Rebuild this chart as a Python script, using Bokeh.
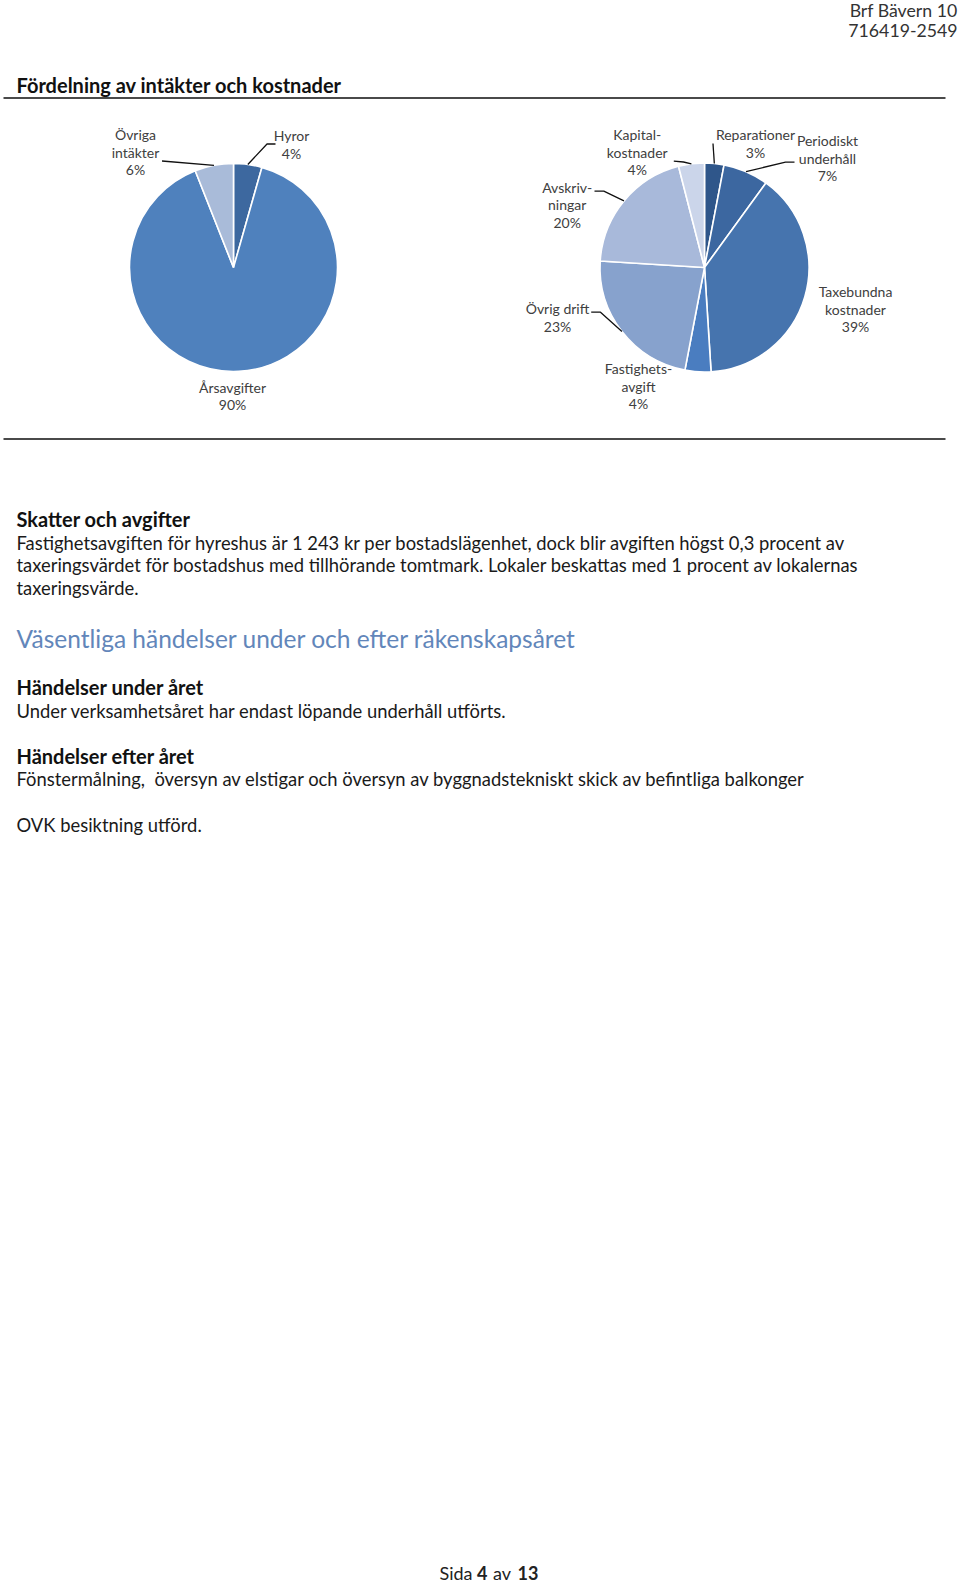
import math
from bokeh.plotting import figure
from bokeh.models import Range1d, ColumnDataSource
from bokeh.core.properties import value
from bokeh.embed import file_html
from bokeh.resources import INLINE

# ---------------- data ----------------
income_labels = ["Hyror", "Årsavgifter", "Övriga\nintäkter"]
income_values = [4.4, 89.6, 6.0]
income_colors = ["#3D689F", "#4F81BD", "#A9BBD9"]

cost_labels = ["Reparationer", "Periodiskt\nunderhåll", "Taxebundna\nkostnader",
               "Fastighets-\navgift", "Övrig drift", "Avskriv-\nningar", "Kapital-\nkostnader"]
cost_values = [3, 7, 39, 4, 23, 20, 4]
cost_colors = ["#2F568A", "#3C67A0", "#4674AE", "#4A7DC0", "#87A2CD", "#A8B9DA", "#CBD5EA"]

header_lines = ["Brf Bävern 10", "716419-2549"]
section_title = "Fördelning av intäkter och kostnader"
tax_title = "Skatter och avgifter"
tax_lines = [
    "Fastighetsavgiften för hyreshus är 1 243 kr per bostadslägenhet, dock blir avgiften högst 0,3 procent av",
    "taxeringsvärdet för bostadshus med tillhörande tomtmark. Lokaler beskattas med 1 procent av lokalernas",
    "taxeringsvärde.",
]
events_title = "Väsentliga händelser under och efter räkenskapsåret"
during_title = "Händelser under året"
during_text = "Under verksamhetsåret har endast löpande underhåll utförts."
after_title = "Händelser efter året"
after_text = "Fönstermålning, \u00a0översyn av elstigar och översyn av byggnadstekniskt skick av befintliga balkonger"
after_text2 = "OVK besiktning utförd."
footer_parts = [("Sida ", "normal"), ("4", "bold"), (" av ", "normal"), ("13", "bold")]

# ---------------- layout/style ----------------
W, H = 960, 1583
FONT = "Lato"
BODY = 18.4
HEAD = 20


def Y(y):
    return H - y


p = figure(width=W, height=H, x_range=Range1d(0, W), y_range=Range1d(0, H),
           output_backend="svg", toolbar_location=None,
           x_axis_location=None, y_axis_location=None,
           min_border=0, outline_line_color=None,
           background_fill_color="white", border_fill_color="white")
p.xgrid.visible = False
p.ygrid.visible = False


def txt(x, y, s, size, align="left", bold=False, color="#1a1a1a"):
    p.text(x=[x], y=[Y(y)], text=[s], text_font=value(FONT), text_font_size=f"{size}px",
           text_align=align, text_baseline="middle", text_color=color,
           text_font_style="bold" if bold else "normal")


def pie(cx, cy, r, values, colors):
    total = sum(values)
    cum = 0.0
    starts, ends, mids = [], [], []
    for v in values:
        a0 = math.pi / 2 - 2 * math.pi * cum / total
        cum += v
        a1 = math.pi / 2 - 2 * math.pi * cum / total
        starts.append(a0)
        ends.append(a1)
        mids.append((a0 + a1) / 2)
    src = ColumnDataSource(dict(x=[cx] * len(values), y=[Y(cy)] * len(values),
                                s=starts, e=ends, c=colors))
    p.wedge(x="x", y="y", radius=r, start_angle="s", end_angle="e", direction="clock",
            fill_color="c", line_color="white", line_width=1.6, source=src)
    edge = [(cx + r * math.cos(m), cy - r * math.sin(m)) for m in mids]
    return edge


def labels(lbls, vals, anchors, size=14, step=17.5):
    for lbl, v, (ax, ay) in zip(lbls, vals, anchors):
        lines = lbl.split("\n") + [f"{round(v)}%"]
        for i, ln in enumerate(lines):
            txt(ax, ay + i * step, ln, size, align="center", color="#404040")


def leaders(edge, elbows):
    xs, ys = [], []
    for i, pts in elbows.items():
        ex, ey = edge[i]
        px = [q[0] for q in pts] + [ex]
        py = [Y(q[1]) for q in pts] + [Y(ey)]
        xs.append(px)
        ys.append(py)
    p.multi_line(xs=xs, ys=ys, line_color="#111111", line_width=1.3)


# header
txt(957, 9.5, header_lines[0], 17.7, align="right", color="#333333")
txt(957, 30, header_lines[1], 17.7, align="right", color="#333333")

# section title + rules
txt(16, 84, section_title, HEAD, bold=True, color="#111111")
p.line([3, 945], [Y(97.5), Y(97.5)], line_color="#4a4a4a", line_width=2)
p.line([3, 945], [Y(438.5), Y(438.5)], line_color="#4a4a4a", line_width=2)

# income pie
edge_l = pie(233, 267, 104, income_values, income_colors)
leaders(edge_l, {0: [(275, 143.5), (266.5, 143.5)], 2: [(161.5, 160.5)]})
labels(income_labels, income_values, [(291, 135), (232, 386.5), (135, 134)])

# cost pie
edge_r = pie(704, 267, 104.5, cost_values, cost_colors)
leaders(edge_r, {
    0: [(712.5, 143)],
    1: [(794, 161.7), (785, 161.7)],
    4: [(590.7, 311.7), (600, 311.7)],
    5: [(594, 190.7), (603.3, 190.7)],
    6: [(673.3, 160.7), (683, 161.5)],
})
labels(cost_labels, cost_values,
       [(755, 134), (827, 140), (855, 291), (638, 368.3), (557, 308.3), (566.7, 186.7), (636.7, 134)])

# text sections
txt(16, 518.5, tax_title, HEAD, bold=True, color="#111111")
for i, ln in enumerate(tax_lines):
    txt(16, 542.5 + i * 22.3, ln, BODY)

txt(16, 637.5, events_title, 24.5, color="#6286BA")
txt(16, 686.5, during_title, HEAD, bold=True, color="#111111")
txt(16, 710, during_text, BODY)
txt(16, 755, after_title, HEAD, bold=True, color="#111111")
txt(16, 778.5, after_text, BODY)
txt(16, 824.5, after_text2, BODY)

# footer
fx = [439, 476.5, 492.6, 517]
for (s, st), x in zip(footer_parts, fx):
    txt(x, 1572.5, s, 18, bold=(st == "bold"), color="#222222")

open("out.html", "w").write(file_html(p, INLINE))
